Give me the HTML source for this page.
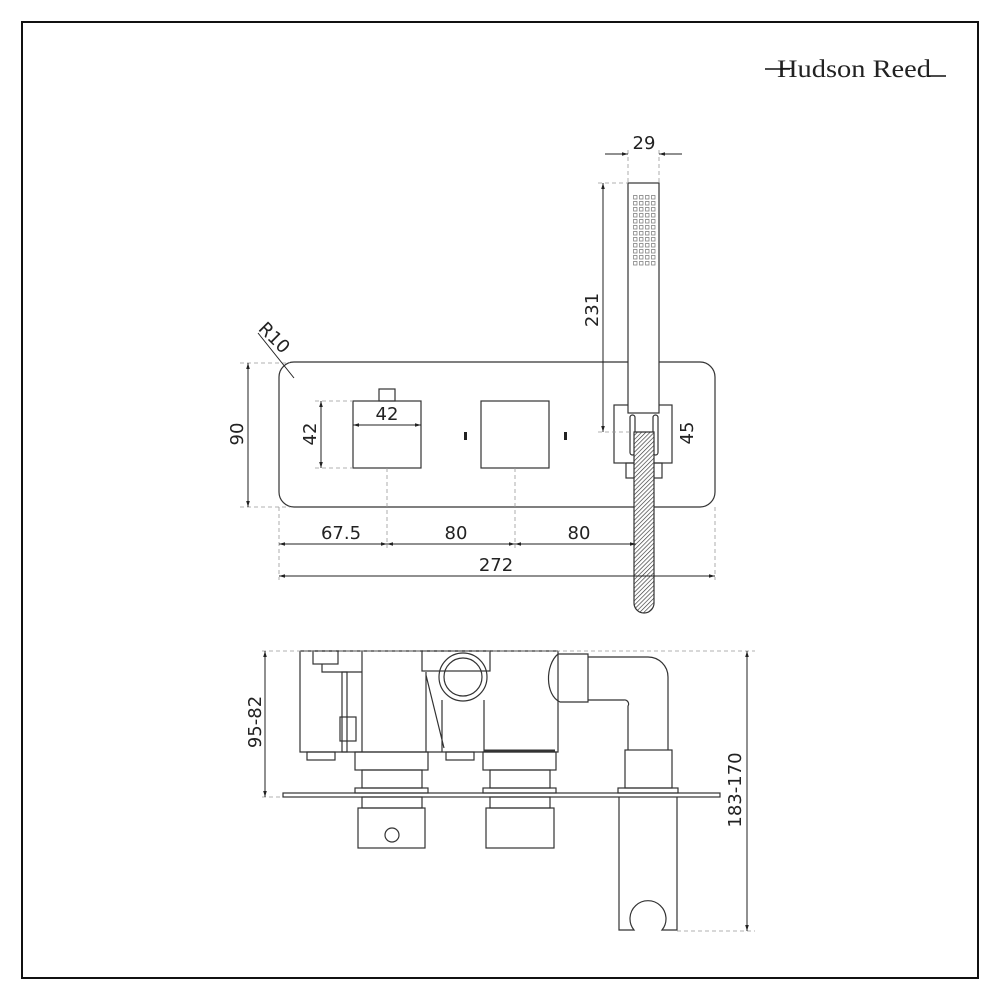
<!DOCTYPE html>
<html><head><meta charset="utf-8"><style>
html,body{margin:0;padding:0;background:#fff}
svg{display:block}
text{font-family:"DejaVu Sans","Liberation Sans",sans-serif;fill:#222}
</style></head><body>
<svg width="1000" height="1000" viewBox="0 0 1000 1000" xmlns="http://www.w3.org/2000/svg">
<defs>
<marker id="a" viewBox="0 0 10 10" refX="10" refY="5" markerWidth="8" markerHeight="6" orient="auto-start-reverse"><path d="M0,2 L10,5 L0,8z" fill="#222"/></marker>
<pattern id="h" width="3" height="3" patternUnits="userSpaceOnUse" patternTransform="rotate(45)"><rect width="3" height="3" fill="#fff"/><line x1="0" y1="0" x2="0" y2="3" stroke="#333" stroke-width="1.3"/></pattern>
</defs>
<rect x="22" y="22" width="956" height="956" fill="none" stroke="#111" stroke-width="2"/>
<text x="777" y="77" style="font-family:'Liberation Serif',serif" font-size="25" fill="#111" textLength="154" lengthAdjust="spacingAndGlyphs">Hudson Reed</text>
<line x1="765" y1="69" x2="790" y2="69" stroke="#111" stroke-width="1.5"/>
<line x1="928" y1="76" x2="946" y2="76" stroke="#111" stroke-width="1.5"/>

<g fill="none" stroke="#333" stroke-width="1.2">
<rect x="279" y="362" width="436" height="145" rx="15"/>
<rect x="353" y="401" width="68" height="67"/>
<rect x="379" y="389" width="16" height="12"/>
<rect x="481" y="401" width="68" height="67"/>
<rect x="614" y="405" width="58" height="58"/>
<rect x="626" y="463" width="36" height="15"/>
<rect x="628" y="183" width="31" height="230" fill="#fff"/>
<rect x="630" y="415" width="5" height="40" rx="2.5" fill="#fff"/>
<rect x="653" y="415" width="5" height="40" rx="2.5" fill="#fff"/>
<path d="M634,432 H654 V603 A10,10 0 0 1 634,603 Z" fill="url(#h)"/>
</g>
<rect x="464" y="432" width="3" height="8" fill="#222"/>
<rect x="564" y="432" width="3" height="8" fill="#222"/>
<g fill="none" stroke="#777" stroke-width="0.7">
<path id="holes" d="M633.5,195.5h3.5v3.5h-3.5zM639.5,195.5h3.5v3.5h-3.5zM645.5,195.5h3.5v3.5h-3.5zM651.5,195.5h3.5v3.5h-3.5z"/>
<use href="#holes" y="6"/><use href="#holes" y="12"/><use href="#holes" y="18"/><use href="#holes" y="24"/><use href="#holes" y="30"/><use href="#holes" y="36"/><use href="#holes" y="42"/><use href="#holes" y="48"/><use href="#holes" y="54"/><use href="#holes" y="60"/><use href="#holes" y="66"/>
</g>

<g stroke="#999" stroke-width="0.8" stroke-dasharray="4,3" fill="none">
<line x1="240" y1="363" x2="290" y2="363"/><line x1="240" y1="507" x2="290" y2="507"/>
<line x1="315" y1="401" x2="353" y2="401"/><line x1="315" y1="468" x2="353" y2="468"/>
<line x1="387" y1="468" x2="387" y2="548"/><line x1="515" y1="468" x2="515" y2="548"/>
<line x1="279" y1="507" x2="279" y2="580"/><line x1="715" y1="507" x2="715" y2="580"/>
<line x1="598" y1="183" x2="628" y2="183"/><line x1="598" y1="432" x2="634" y2="432"/>
<line x1="628" y1="150" x2="628" y2="183"/><line x1="659" y1="150" x2="659" y2="183"/>
</g>
<g stroke="#222" stroke-width="1" fill="none">
<line x1="248" y1="363" x2="248" y2="507" marker-start="url(#a)" marker-end="url(#a)"/>
<line x1="321" y1="401" x2="321" y2="468" marker-start="url(#a)" marker-end="url(#a)"/>
<line x1="353" y1="425" x2="421" y2="425" marker-start="url(#a)" marker-end="url(#a)"/>
<line x1="603" y1="183" x2="603" y2="432" marker-start="url(#a)" marker-end="url(#a)"/>
<line x1="605" y1="154" x2="628" y2="154" marker-end="url(#a)"/>
<line x1="682" y1="154" x2="659" y2="154" marker-end="url(#a)"/>
<line x1="279" y1="544" x2="387" y2="544" marker-start="url(#a)" marker-end="url(#a)"/>
<line x1="387" y1="544" x2="515" y2="544" marker-start="url(#a)" marker-end="url(#a)"/>
<line x1="515" y1="544" x2="636" y2="544" marker-start="url(#a)" marker-end="url(#a)"/>
<line x1="279" y1="576" x2="715" y2="576" marker-start="url(#a)" marker-end="url(#a)"/>
<line x1="258" y1="333" x2="294" y2="378"/>
</g>
<g font-size="18">
<text x="341" y="539" text-anchor="middle">67.5</text>
<text x="456" y="539" text-anchor="middle">80</text>
<text x="579" y="539" text-anchor="middle">80</text>
<text x="496" y="571" text-anchor="middle">272</text>
<text x="387" y="420" text-anchor="middle">42</text>
<text x="644" y="149" text-anchor="middle">29</text>
<text transform="translate(243,434) rotate(-90)" text-anchor="middle">90</text>
<text transform="translate(316,434) rotate(-90)" text-anchor="middle">42</text>
<text transform="translate(598,310) rotate(-90)" text-anchor="middle">231</text>
<text transform="translate(693,433) rotate(-90)" text-anchor="middle">45</text>
<text transform="translate(270,342) rotate(45)" text-anchor="middle">R10</text>
<text transform="translate(261,722) rotate(-90)" text-anchor="middle">95-82</text>
<text transform="translate(741,790) rotate(-90)" text-anchor="middle">183-170</text>
</g>

<g fill="none" stroke="#333" stroke-width="1.2">
<rect x="283" y="793" width="437" height="4"/>
<path d="M300,651 H558 M300,651 V752 H558 V651"/>
<rect x="313" y="651" width="25" height="13"/>
<path d="M322,664 V672 H362 M362,651 V752"/>
<rect x="342" y="672" width="5" height="80"/>
<rect x="340" y="717" width="16" height="24"/>
<rect x="422" y="651" width="68" height="20"/>
<circle cx="463" cy="677" r="24"/><circle cx="463" cy="677" r="19"/>
<path d="M426,672 V752 M442,700 V752 M484,700 V752 M426,675 L444,748"/>
<rect x="307" y="752" width="28" height="8"/><rect x="446" y="752" width="28" height="8"/>
<line x1="484" y1="751" x2="555" y2="751" stroke-width="3"/>
<path d="M558,654 C545,665 545,695 560,702 H588 V654 Z"/>
<path d="M588,657 H648 A20,20 0 0 1 668,677 V750 M588,700 H624 A4,4 0 0 1 628,706 V750"/>
<rect x="625" y="750" width="47" height="38"/>
<rect x="618" y="788" width="60" height="5"/>
<path d="M619,797 V930 H634 A18,18 0 1 1 662,930 H677 V797"/>
<rect x="355" y="752" width="73" height="18"/><rect x="362" y="770" width="60" height="18"/><rect x="355" y="788" width="73" height="5"/><rect x="362" y="797" width="60" height="11"/>
<rect x="358" y="808" width="67" height="40"/><circle cx="392" cy="835" r="7"/>
<rect x="483" y="752" width="73" height="18"/><rect x="490" y="770" width="60" height="18"/><rect x="483" y="788" width="73" height="5"/><rect x="490" y="797" width="60" height="11"/>
<rect x="486" y="808" width="68" height="40"/>
</g>
<g stroke="#999" stroke-width="0.8" stroke-dasharray="4,3" fill="none">
<line x1="262" y1="651" x2="755" y2="651"/><line x1="262" y1="797" x2="283" y2="797"/>
<line x1="677" y1="931" x2="755" y2="931"/>
</g>
<g stroke="#222" stroke-width="1" fill="none">
<line x1="265" y1="651" x2="265" y2="797" marker-start="url(#a)" marker-end="url(#a)"/>
<line x1="747" y1="651" x2="747" y2="931" marker-start="url(#a)" marker-end="url(#a)"/>
</g>
</svg>
</body></html>
